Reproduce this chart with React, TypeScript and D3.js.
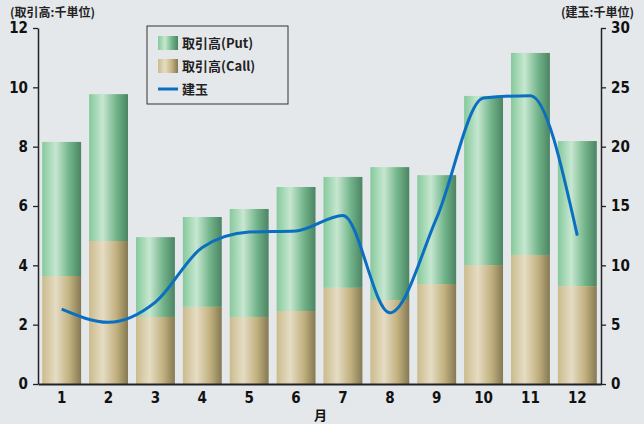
import React, { useEffect, useRef } from 'react';
import * as d3 from 'd3';

const months = ['1', '2', '3', '4', '5', '6', '7', '8', '9', '10', '11', '12'];
const callValues = [3.64, 4.82, 2.26, 2.6, 2.26, 2.46, 3.24, 2.83, 3.37, 4.01, 4.35, 3.3];
const totalValues = [8.16, 9.77, 4.95, 5.63, 5.9, 6.64, 6.98, 7.31, 7.04, 9.71, 11.16, 8.19];
const openInterest = [6.3, 5.2, 6.9, 11.5, 12.8, 12.9, 14.2, 6.0, 14.0, 24.1, 24.3, 12.5];
const leftTicks = [0, 2, 4, 6, 8, 10, 12];
const rightTicks = [0, 5, 10, 15, 20, 25, 30];

const numFont = '"Liberation Sans Narrow", "DejaVu Sans Condensed", "Liberation Sans", sans-serif';
const jpFont = '"Noto Sans CJK JP", sans-serif';

const App: React.FC = () => {
  const ref = useRef<SVGSVGElement | null>(null);

  useEffect(() => {
    if (!ref.current) return;
    const W = 644, H = 424;
    const margin = { top: 28, right: 43, bottom: 40, left: 38 };
    const width = W - margin.left - margin.right;
    const height = H - margin.top - margin.bottom;

    const root = d3.select(ref.current);
    root.selectAll('*').remove();

    const defs = root.append('defs');
    const grad = (id: string, stops: [number, string][]) => {
      const g = defs.append('linearGradient').attr('id', id)
        .attr('x1', '0%').attr('x2', '100%').attr('y1', '0%').attr('y2', '0%');
      stops.forEach(([o, c]) => g.append('stop').attr('offset', `${o}%`).attr('stop-color', c));
    };
    grad('gPut', [[0, '#86c99c'], [35, '#c6e7d0'], [70, '#72b48a'], [100, '#4b8463']]);
    grad('gCall', [[0, '#cbbb8c'], [35, '#e5dcc4'], [70, '#c2b17f'], [100, '#857953']]);

    root.append('rect').attr('width', W).attr('height', H).attr('fill', '#e5e8eb');

    const svg = root.append('g').attr('transform', `translate(${margin.left},${margin.top})`);

    const x = d3.scaleBand().domain(months).range([0, width]).paddingInner(0.17).paddingOuter(0.09);
    const y1 = d3.scaleLinear().domain([0, 12]).range([height, 0]);
    const y2 = d3.scaleLinear().domain([0, 30]).range([height, 0]);

    // put (top part)
    svg.selectAll('rect.put').data(months).enter().append('rect')
      .attr('class', 'put')
      .attr('x', d => x(d)!)
      .attr('width', x.bandwidth())
      .attr('y', (d, i) => y1(totalValues[i]))
      .attr('height', (d, i) => y1(callValues[i]) - y1(totalValues[i]))
      .attr('fill', 'url(#gPut)');

    // call (bottom part)
    svg.selectAll('rect.call').data(months).enter().append('rect')
      .attr('class', 'call')
      .attr('x', d => x(d)!)
      .attr('width', x.bandwidth())
      .attr('y', (d, i) => y1(callValues[i]))
      .attr('height', (d, i) => height - y1(callValues[i]))
      .attr('fill', 'url(#gCall)');

    const line = d3.line<number>()
      .x((d, i) => x(months[i])! + x.bandwidth() / 2)
      .y(d => y2(d))
      .curve(d3.curveMonotoneX);

    svg.append('path')
      .datum(openInterest)
      .attr('fill', 'none')
      .attr('stroke', '#0a6fc0')
      .attr('stroke-width', 3)
      .attr('stroke-linejoin', 'round')
      .attr('d', line);

    // axes
    const yAxisLeft = d3.axisLeft(y1).tickValues(leftTicks).tickSize(5).tickSizeOuter(0);
    const yAxisRight = d3.axisRight(y2).tickValues(rightTicks).tickSize(5).tickSizeOuter(0);

    const gl = svg.append('g').call(yAxisLeft);
    const gr = svg.append('g').attr('transform', `translate(${width},0)`).call(yAxisRight);
    [gl, gr].forEach(g => {
      g.select('.domain').attr('stroke', '#222').attr('stroke-width', 1.5);
      g.selectAll('.tick line').attr('stroke', '#222').attr('stroke-width', 1.3);
      g.selectAll('.tick text')
        .attr('font-family', numFont)
        .attr('font-weight', 'bold')
        .attr('font-size', 15)
        .attr('fill', '#111');
    });
    gl.selectAll('.tick text').attr('x', -10);
    gr.selectAll('.tick text').attr('x', 10);

    const xAxis = d3.axisBottom(x).tickSize(0).tickPadding(8);
    const gx = svg.append('g').attr('transform', `translate(0,${height})`).call(xAxis);
    gx.select('.domain').attr('stroke', '#222').attr('stroke-width', 2);
    gx.selectAll('.tick text')
      .attr('font-family', numFont)
      .attr('font-weight', 'bold')
      .attr('font-size', 15)
      .attr('fill', '#111');

    svg.append('text')
      .attr('x', width / 2 + 1)
      .attr('y', height + 36)
      .attr('text-anchor', 'middle')
      .attr('font-family', jpFont)
      .attr('font-weight', 'bold')
      .attr('font-size', 13)
      .attr('fill', '#111')
      .text('月');

    // axis titles
    root.append('text')
      .attr('x', 10).attr('y', 17)
      .attr('font-family', jpFont).attr('font-weight', 'bold').attr('font-size', 12).attr('fill', '#222')
      .text('(取引高:千単位)');
    root.append('text')
      .attr('x', 634).attr('y', 17)
      .attr('text-anchor', 'end')
      .attr('font-family', jpFont).attr('font-weight', 'bold').attr('font-size', 12).attr('fill', '#222')
      .text('(建玉:千単位)');

    // legend
    const lg = root.append('g').attr('transform', 'translate(147,26)');
    lg.append('rect').attr('width', 141).attr('height', 78)
      .attr('fill', '#e5e8eb').attr('stroke', '#333').attr('stroke-width', 1);
    const items = [
      { label: '取引高(Put)', kind: 'gPut' },
      { label: '取引高(Call)', kind: 'gCall' },
      { label: '建玉', kind: 'line' },
    ];
    items.forEach((it, i) => {
      const cy = 17 + i * 23;
      if (it.kind === 'line') {
        lg.append('line').attr('x1', 11).attr('x2', 31).attr('y1', cy).attr('y2', cy)
          .attr('stroke', '#0a6fc0').attr('stroke-width', 3);
      } else {
        lg.append('rect').attr('x', 11).attr('y', cy - 7).attr('width', 20).attr('height', 14)
          .attr('fill', `url(#${it.kind})`);
      }
      lg.append('text').attr('x', 35).attr('y', cy + 5)
        .attr('font-family', jpFont).attr('font-weight', 'bold').attr('font-size', 13).attr('fill', '#222')
        .text(it.label);
    });
  }, []);

  return <svg ref={ref} width={644} height={424} style={{ position: 'absolute', left: 0, top: 0 }} />;
};

export default App;
